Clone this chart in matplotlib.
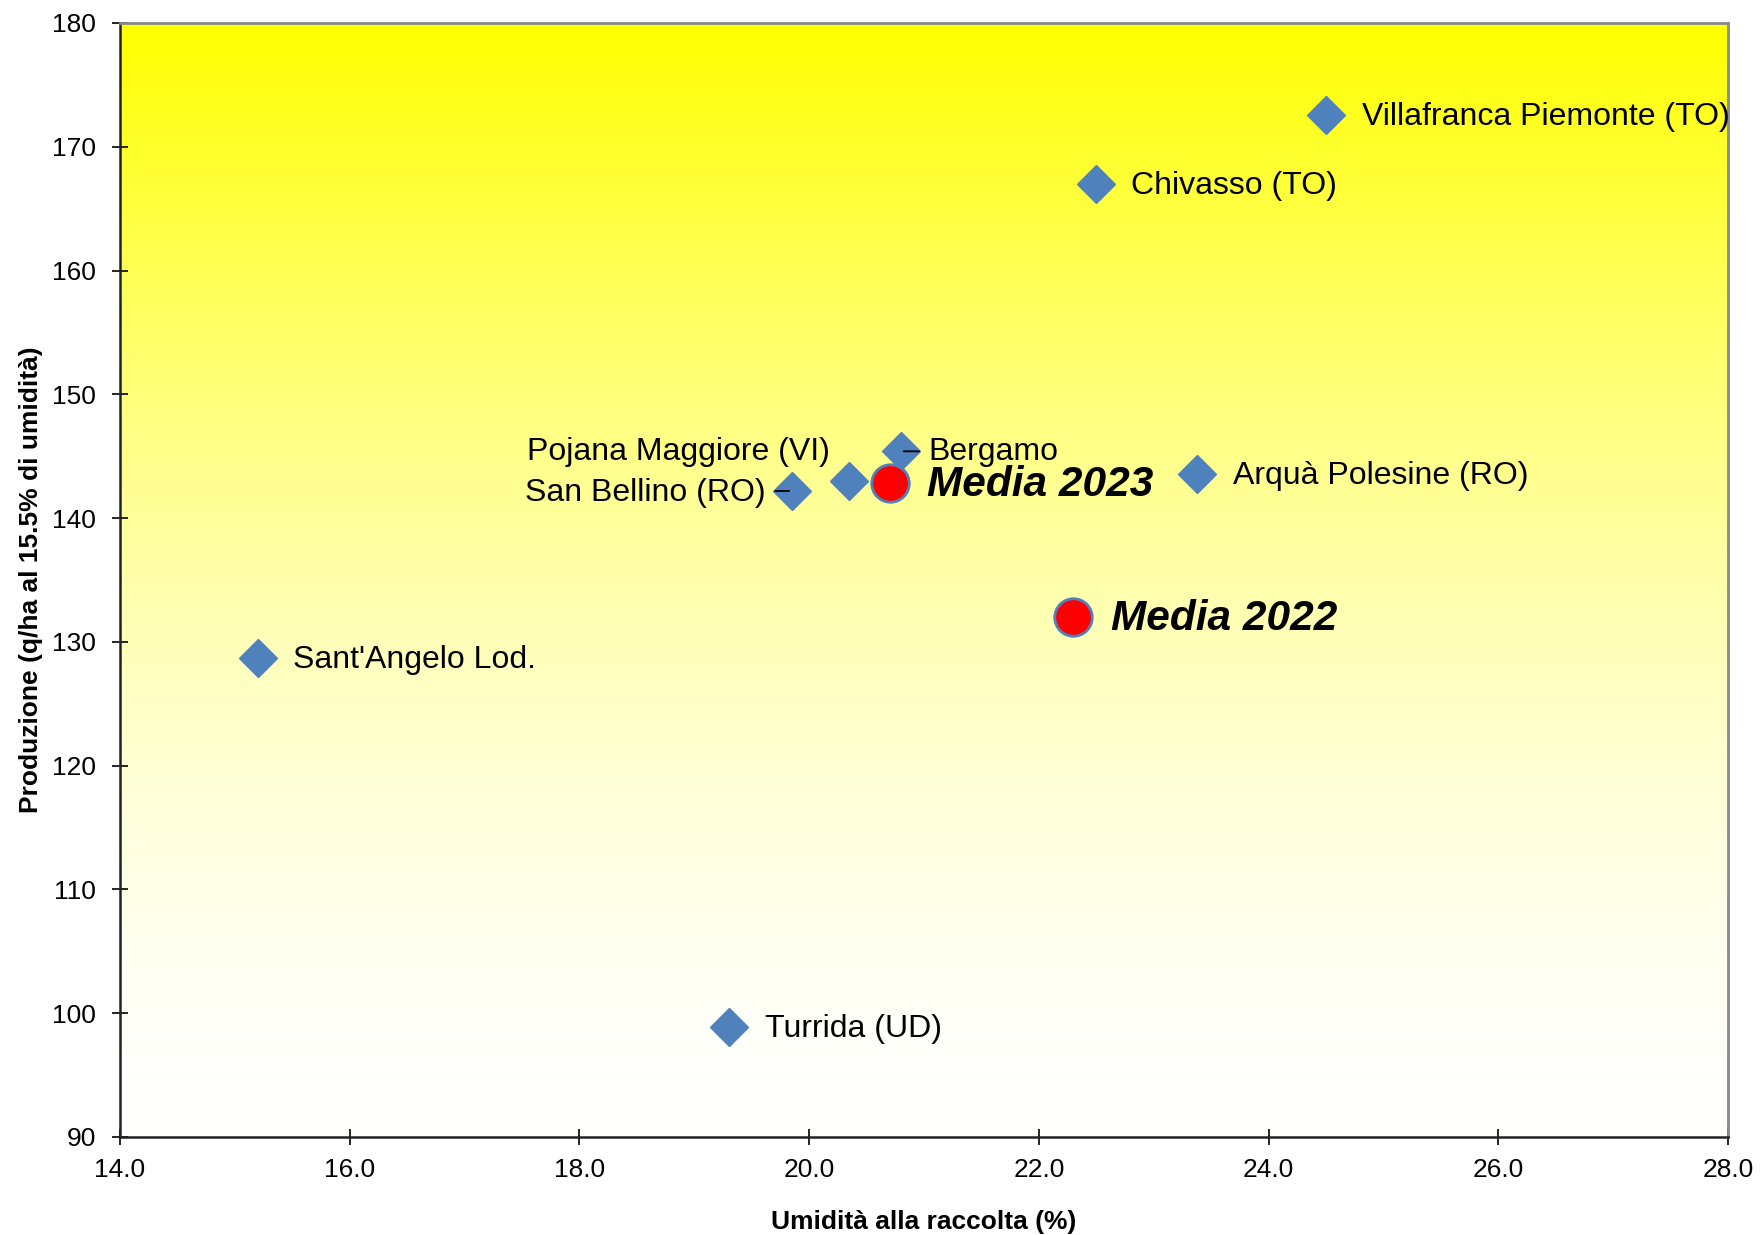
import numpy as np
import matplotlib.pyplot as plt

plt.rcParams['font.family'] = ['Liberation Sans', 'DejaVu Sans']

# sites (diamonds)
sites = ["Villafranca Piemonte (TO)", "Chivasso (TO)", "Bergamo", "Pojana Maggiore (VI)",
         "San Bellino (RO)", "Arquà Polesine (RO)", "Sant'Angelo Lod.", "Turrida (UD)"]
umidita = [24.5, 22.5, 20.8, 20.35, 19.85, 23.38, 15.2, 19.3]
produzione = [172.6, 167.0, 145.4, 143.0, 142.2, 143.6, 128.7, 98.9]

# averages (red circles)
medie = ["Media 2023", "Media 2022"]
umidita_media = [20.7, 22.3]
produzione_media = [142.8, 132.0]

x_ticks = [14, 16, 18, 20, 22, 24, 26, 28]
y_ticks = [90, 100, 110, 120, 130, 140, 150, 160, 170, 180]

# label offsets in points (dx, dy, ha)
offsets = {
    "Villafranca Piemonte (TO)": (26, -1.5, 'left'),
    "Chivasso (TO)": (25, -1.5, 'left'),
    "Bergamo": (20, -0.5, 'left'),
    "Pojana Maggiore (VI)": (-14, 21, 'right'),
    "San Bellino (RO)": (-19, -1.5, 'right'),
    "Arquà Polesine (RO)": (26, -1.5, 'left'),
    "Sant'Angelo Lod.": (25, -1.5, 'left'),
    "Turrida (UD)": (26, -1.5, 'left'),
}
leader = {"Bergamo", "San Bellino (RO)"}

fig = plt.figure(figsize=(17.6, 12.35), dpi=100)
ax = fig.add_axes([0.0682, 0.0794, 0.9136, 0.902])

# yellow -> white gradient background (top to bottom)
t = np.linspace(0, 1, 512)
blue = 1 - (1 - t) ** 1.6
cols = np.ones((512, 1, 3))
cols[:, 0, 2] = blue
ax.imshow(cols[::-1], extent=[14, 28, 90, 180], aspect='auto', origin='lower', zorder=0)

ax.plot(umidita, produzione, 'D', color='#4F81BD', ms=19.5, mec='#4F81BD', zorder=2, ls='none')
ax.plot(umidita_media, produzione_media, 'o', color='#FF0000', ms=27, mec='#4F81BD',
        mew=2, zorder=3, ls='none')

for name, x, y in zip(sites, umidita, produzione):
    dx, dy, ha = offsets[name]
    kw = {}
    if name in leader:
        kw['arrowprops'] = dict(arrowstyle='-', lw=1.3, color='black', shrinkA=5, shrinkB=2)
    ax.annotate(name, (x, y), xytext=(dx, dy), textcoords='offset points',
                ha=ha, va='center', fontsize=23, zorder=4, **kw)

for name, x, y in zip(medie, umidita_media, produzione_media):
    ax.annotate(name, (x, y), xytext=(27, -1.5), textcoords='offset points',
                ha='left', va='center', fontsize=30.5, fontweight='bold',
                fontstyle='italic', zorder=4)

ax.set_xlim(14, 28)
ax.set_ylim(90, 180)
ax.set_xticks(x_ticks)
ax.set_xticklabels([f"{v:.1f}" for v in x_ticks])
ax.set_yticks(y_ticks)
ax.tick_params(direction='inout', length=11, width=1.2, labelsize=19)
ax.tick_params(axis='y', pad=12)
ax.tick_params(axis='x', pad=10)

for s in ['left', 'bottom']:
    ax.spines[s].set_color('#222222')
    ax.spines[s].set_linewidth(1.8)
for s in ['top', 'right']:
    ax.spines[s].set_color('#888888')
    ax.spines[s].set_linewidth(2)

ax.set_xlabel("Umidità alla raccolta (%)", fontsize=19, fontweight='bold', labelpad=20)
ax.set_ylabel("Produzione (q/ha al 15.5% di umidità)", fontsize=19, fontweight='bold', labelpad=6)

fig.savefig("out.png", dpi=100)
